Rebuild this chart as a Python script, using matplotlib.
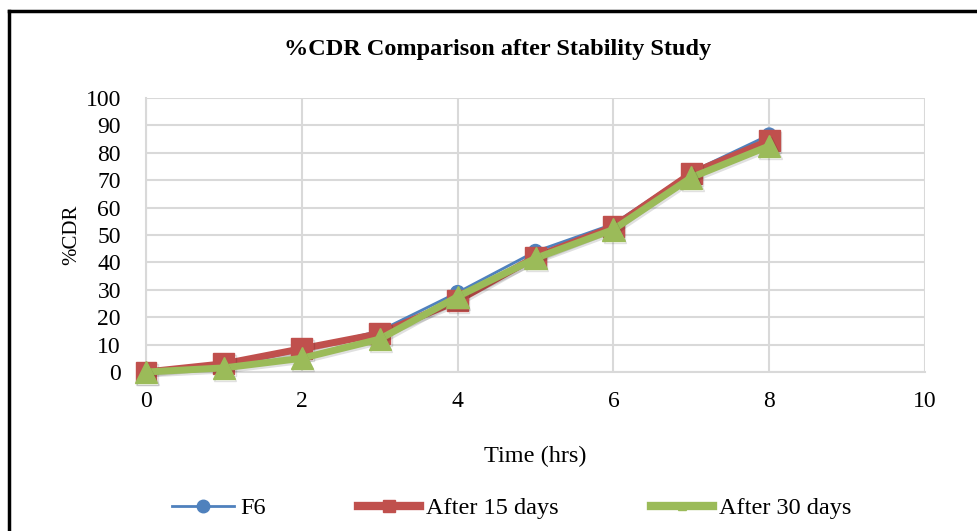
import matplotlib.pyplot as plt
import matplotlib.patheffects as pe
from matplotlib.lines import Line2D

plt.rcParams['font.family'] = ['Liberation Serif', 'DejaVu Serif']

### DATA ###

time_hrs = [0, 1, 2, 3, 4, 5, 6, 7, 8]
f6 = [0, 2, 8, 15, 29, 44, 54, 73, 86.5]
after_15 = [0, 3, 8.5, 14, 26, 42, 53, 72.5, 84.5]
after_30 = [0, 1.5, 5, 12, 27.5, 41.5, 52, 71, 82.5]

x_ticks = [0, 2, 4, 6, 8, 10]
y_ticks = list(range(0, 101, 10))

### PLOT ###

fig = plt.figure(figsize=(9.77, 5.31), dpi=100)
ax = fig.add_axes([146 / 977, 1 - 372 / 531, (925 - 146) / 977, (372 - 98) / 531])

shadow = [pe.SimpleLineShadow(offset=(1, -1.5), alpha=0.12), pe.Normal()]

ax.plot(time_hrs, f6, color='#4F81BD', lw=2, marker='o', ms=10,
        label='F6', path_effects=shadow, clip_on=False, zorder=3)
ax.plot(time_hrs, after_15, color='#C0504D', lw=5, marker='s', ms=15,
        label='After 15 days', path_effects=shadow, clip_on=False, zorder=4)
ax.plot(time_hrs, after_30, color='#9BBB59', lw=5, marker='^', ms=16,
        label='After 30 days', path_effects=shadow, clip_on=False, zorder=5)

ax.set_xlim(0, 10)
ax.set_ylim(0, 100)
ax.set_xticks(x_ticks)
ax.set_yticks(y_ticks)
ax.tick_params(length=0, labelsize=17, pad=14)
ax.tick_params(axis='y', pad=18)
ax.grid(True, color='#D9D9D9', lw=1.5)
ax.set_axisbelow(True)
for s in ['top', 'right']:
    ax.spines[s].set_visible(False)
for s in ['left', 'bottom']:
    ax.spines[s].set_color('#D9D9D9')
    ax.spines[s].set_linewidth(1.5)

ax.set_xlabel('Time (hrs)', fontsize=17.5, labelpad=24)
ax.set_ylabel('%CDR', fontsize=15, labelpad=3)
fig.text(498 / 977, 1 - 50 / 531, '%CDR Comparison after Stability Study',
         ha='center', va='center', fontsize=17.5, fontweight='bold')

handles = [
    Line2D([], [], color='#4F81BD', lw=2, marker='o', ms=9),
    Line2D([], [], color='#C0504D', lw=6, marker='s', ms=9),
    Line2D([], [], color='#9BBB59', lw=6, marker='^', ms=6),
]
fig.legend(handles, ['F6', 'After 15 days', 'After 30 days'],
           loc='center', bbox_to_anchor=(512 / 977, 1 - 508 / 531), ncol=3,
           frameon=False, fontsize=17.5, handlelength=2.55, handletextpad=0.25,
           columnspacing=3.8)

# frame lines on the left and top edges
fig.add_artist(Line2D([9 / 977, 9 / 977], [0, 1 - 11 / 531], color='black', lw=2.5,
                      transform=fig.transFigure))
fig.add_artist(Line2D([9 / 977, 1], [1 - 11 / 531, 1 - 11 / 531], color='black', lw=2.5,
                      transform=fig.transFigure))

fig.savefig('out.png', dpi=100)
